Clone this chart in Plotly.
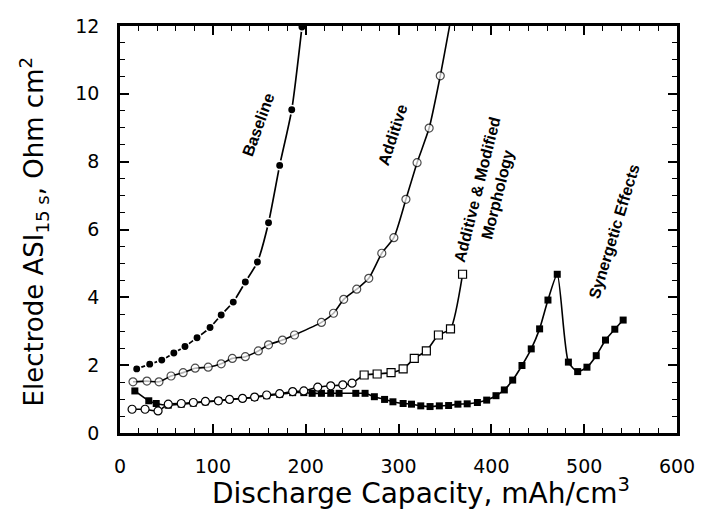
import plotly.graph_objects as go

# ---- data ----
baseline_x = [18, 32, 45, 58, 70, 83, 97, 109, 122, 135, 148, 160, 172, 185, 196]
baseline_y = [1.89, 2.03, 2.15, 2.36, 2.55, 2.81, 3.11, 3.48, 3.86, 4.45, 5.04, 6.2, 7.89, 9.53, 11.97]

additive_x = [14, 29, 42, 55, 68, 81, 95, 109, 121, 135, 149, 160, 175, 188, 217, 230, 241, 255, 268,
              282, 295, 308, 320, 333, 345, 355]
additive_y = [1.51, 1.53, 1.51, 1.68, 1.78, 1.91, 1.94, 2.04, 2.2, 2.25, 2.42, 2.6, 2.74, 2.89, 3.26,
              3.53, 3.94, 4.24, 4.56, 5.3, 5.76, 6.89, 7.97, 8.99, 10.53, 12.0]

addmod_x = [13, 27, 41, 52, 66, 79, 92, 106, 118, 132, 145, 158, 172, 186, 198, 213, 227, 240, 250,
            263, 277, 292, 305, 317, 330, 343, 356, 369]
addmod_y = [0.70, 0.70, 0.65, 0.85, 0.87, 0.90, 0.93, 0.95, 0.99, 1.02, 1.06, 1.12, 1.16, 1.22, 1.24,
            1.35, 1.39, 1.42, 1.47, 1.71, 1.74, 1.78, 1.89, 2.2, 2.42, 2.89, 3.07, 4.68]

synergy_x = [16, 31, 39, 52, 66, 79, 92, 106, 118, 132, 145, 158, 172, 186, 198, 207, 217, 227, 236,
             254, 264, 274, 285, 294, 305, 314, 324, 334, 344, 354, 364, 374, 385, 395, 405, 414, 423,
             433, 443, 452, 461, 471, 483, 493, 503, 513, 523, 533, 542]
synergy_y = [1.24, 0.95, 0.87, 0.82, 0.85, 0.88, 0.92, 0.95, 0.99, 1.02, 1.05, 1.10, 1.14, 1.19, 1.19,
             1.17, 1.17, 1.17, 1.17, 1.17, 1.17, 1.07, 0.99, 0.92, 0.87, 0.85, 0.80, 0.78, 0.80, 0.81,
             0.85, 0.86, 0.90, 0.97, 1.10, 1.27, 1.56, 1.99, 2.48, 3.07, 3.92, 4.68, 2.09, 1.81, 1.94,
             2.28, 2.74, 3.06, 3.33]

curve_labels = ["Baseline", "Additive", "Additive & Modified<br>Morphology", "Synergetic Effects"]
label_x = [149, 294, 396, 532]
label_y = [9.1, 8.8, 7.1, 5.95]
label_angle = [-70, -72, -76, -73]

x_ticks = [0, 100, 200, 300, 400, 500, 600]
y_ticks = [0, 2, 4, 6, 8, 10, 12]

# ---- figure ----
fig = go.Figure()

# Baseline: filled circles, line broken around each dot
fig.add_trace(go.Scatter(
    x=baseline_x, y=baseline_y, mode="lines+markers",
    line=dict(color="black", width=1.7, shape="spline", smoothing=0.6),
    marker=dict(symbol="circle", size=8.5, color="black", line=dict(color="white", width=1.6)),
))

# Additive: open circles, line continues to the top of the frame
add_sizes = [8] * (len(additive_x) - 1) + [0]
fig.add_trace(go.Scatter(
    x=additive_x, y=additive_y, mode="lines+markers",
    line=dict(color="black", width=1.6, shape="spline", smoothing=0.6),
    marker=dict(symbol="circle", size=add_sizes, color="white", line=dict(color="black", width=1.2)),
))

# Synergetic Effects: filled squares
fig.add_trace(go.Scatter(
    x=synergy_x, y=synergy_y, mode="lines+markers",
    line=dict(color="black", width=1.6, shape="spline", smoothing=0.6),
    marker=dict(symbol="square", size=7, color="black"),
))

# Additive & Modified Morphology: open circles then open squares (drawn on top)
addmod_symbols = ["circle" if xv < 255 else "square" for xv in addmod_x]
fig.add_trace(go.Scatter(
    x=addmod_x, y=addmod_y, mode="lines+markers",
    line=dict(color="black", width=1.6, shape="spline", smoothing=0.6),
    marker=dict(symbol=addmod_symbols, size=8, color="white", line=dict(color="black", width=1.2)),
))

for t, lx, ly, ang in zip(curve_labels, label_x, label_y, label_angle):
    fig.add_annotation(x=lx, y=ly, text="<b>" + t + "</b>", showarrow=False,
                       textangle=ang, font=dict(family="Liberation Sans", size=16, color="black"))

axis_common = dict(
    showgrid=False, zeroline=False, showline=True, linecolor="black", linewidth=2.5,
    mirror="ticks", ticks="inside", ticklen=9, tickwidth=1.6, tickcolor="black",
    tickfont=dict(family="DejaVu Sans", size=19, color="black"),
)

fig.update_xaxes(range=[0, 600], tickvals=x_ticks, ticktext=[str(v) for v in x_ticks],
                 minor=dict(dtick=20, ticks="inside", ticklen=5, tickwidth=1.4, tickcolor="black",
                            showgrid=False),
                 ticklabelstandoff=14, **axis_common)
fig.update_yaxes(range=[0, 12], tickvals=y_ticks, ticktext=[str(v) for v in y_ticks],
                 minor=dict(dtick=0.5, ticks="inside", ticklen=5, tickwidth=1.4, tickcolor="black",
                            showgrid=False),
                 ticklabelstandoff=14, **axis_common)

fig.add_annotation(xref="paper", yref="paper", x=0.5, y=0, xshift=22, yshift=-58,
                   text="Discharge Capacity, mAh/cm<sup>3</sup>", showarrow=False,
                   yanchor="middle", font=dict(family="DejaVu Sans", size=28, color="black"))
fig.add_annotation(xref="paper", yref="paper", x=0, y=0.5, xshift=-86, yshift=-2,
                   text="Electrode ASI<sub>15 s</sub>, Ohm cm<sup>2</sup>", showarrow=False,
                   textangle=-90, xanchor="center", font=dict(family="DejaVu Sans", size=26, color="black"))

fig.update_layout(
    width=704, height=515, showlegend=False,
    margin=dict(l=120, r=27, t=26, b=82, autoexpand=False),
    paper_bgcolor="white", plot_bgcolor="white",
)

fig.write_html("out.html")
